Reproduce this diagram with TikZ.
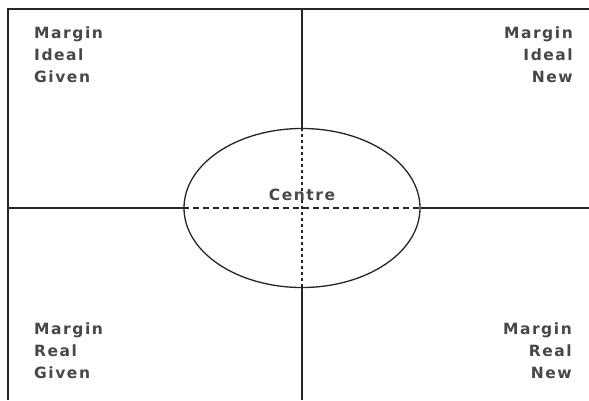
\documentclass[tikz,border=0pt]{standalone}
\usepackage{fontspec}
\newfontfamily\lab{DejaVu Sans}[LetterSpace=10]
\usetikzlibrary{shapes.geometric}
\begin{document}
\begin{tikzpicture}[x=1pt,y=-1pt,
  solidline/.style={draw=black!85,line width=1.3pt},
  axisline/.style={draw=black!85,line width=1.8pt},
  dashline/.style={draw=black!85,line width=1.3pt,dash pattern=on 6pt off 4pt},
  dotline/.style={draw=black!85,line width=1.5pt,dash pattern=on 3pt off 3pt},
  lbl/.style={font=\lab\bfseries\fontsize{15.5}{22}\selectfont,inner sep=0pt,text=black!72}]
\useasboundingbox (0,0) rectangle (589,400);
\fill[white] (0,0) rectangle (589,400);
% frame
\coordinate (tl) at (8,9);
\coordinate (tr) at (589,9);
\coordinate (bl) at (8,400);
\draw[solidline] (tr) -- (tl) -- (bl);
% centre ellipse
\node[ellipse,draw=black!85,line width=1.3pt,minimum width=236pt,minimum height=159pt,inner sep=0pt] (c) at (302,208) {};
\coordinate (vt) at (302,9);
\coordinate (vb) at (302,400);
\coordinate (hl) at (8,208);
\coordinate (hr) at (589,208);
\draw[axisline] (vt) -- (c.north);
\draw[axisline] (c.south) -- (vb);
\draw[dotline] (c.north) -- (c.south);
\draw[solidline] (hl) -- (c.west);
\draw[solidline] (c.east) -- (hr);
\draw[dashline] (c.west) -- (c.east);
% labels
\node[lbl,anchor=north west,align=left] (ig) at (34,27) {Margin\\Ideal\\Given};
\node[lbl,anchor=north east,align=right] (in) at (573,27) {Margin\\Ideal\\New};
\node[lbl,anchor=north west,align=left] (rg) at (34,323) {Margin\\Real\\Given};
\node[lbl,anchor=north east,align=right] (rn) at (572,323) {Margin\\Real\\New};
\node[lbl] (ct) at (302,195) {Centre};
\end{tikzpicture}
\end{document}
